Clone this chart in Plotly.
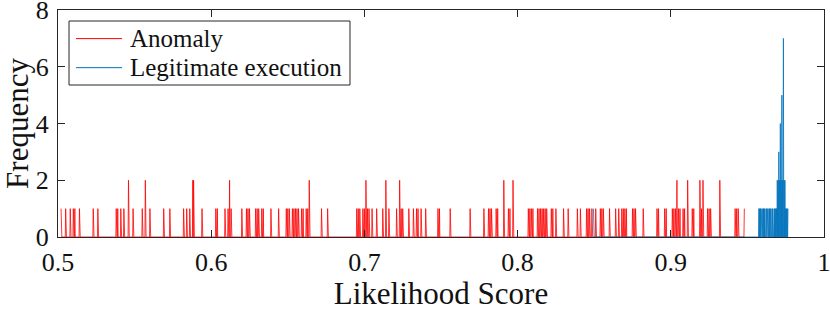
import numpy as np
import plotly.graph_objects as go

# ---- data (score value, frequency) ----
anomaly_score = [
    0.502, 0.505, 0.508, 0.510, 0.511, 0.514, 0.523, 0.526, 0.538, 0.539,
    0.541, 0.543, 0.546, 0.549, 0.555, 0.557, 0.560, 0.569, 0.573, 0.582,
    0.584, 0.586, 0.588, 0.5885, 0.594, 0.603, 0.604, 0.609, 0.611, 0.612,
    0.613, 0.620, 0.623, 0.624, 0.625, 0.629, 0.630, 0.631, 0.633, 0.634,
    0.639, 0.644, 0.649, 0.650, 0.651, 0.653, 0.654, 0.655, 0.656, 0.657,
    0.659, 0.660, 0.662, 0.663, 0.664, 0.672, 0.676, 0.695, 0.696, 0.697,
    0.699, 0.700, 0.701, 0.702, 0.703, 0.705, 0.708, 0.712, 0.714, 0.716,
    0.721, 0.723, 0.724, 0.725, 0.729, 0.732, 0.734, 0.735, 0.737, 0.740,
    0.748, 0.749, 0.756, 0.769, 0.778, 0.781, 0.782, 0.783, 0.786, 0.787,
    0.791, 0.794, 0.795, 0.797, 0.807, 0.808, 0.809, 0.810, 0.813, 0.814,
    0.815, 0.816, 0.817, 0.818, 0.819, 0.822, 0.823, 0.825, 0.830, 0.833,
    0.839, 0.841, 0.845, 0.846, 0.847, 0.8485, 0.851, 0.854, 0.855, 0.856,
    0.860, 0.864, 0.866, 0.868, 0.869, 0.870, 0.871, 0.875, 0.876, 0.877,
    0.882, 0.891, 0.892, 0.896, 0.897, 0.901, 0.902, 0.903, 0.904, 0.905,
    0.906, 0.908, 0.909, 0.911, 0.914, 0.915, 0.919, 0.920, 0.921, 0.924,
    0.925, 0.926, 0.932, 0.942, 0.943, 0.944, 0.948,
]
anomaly_freq = [
    1, 1, 1, 1, 1, 1, 1, 1, 1, 1,
    1, 1, 2, 1, 1, 2, 1, 1, 1, 1,
    1, 1, 2, 2, 1, 1, 1, 1, 1, 2,
    1, 1, 1, 1, 1, 1, 1, 1, 1, 1,
    1, 1, 1, 1, 1, 1, 1, 1, 1, 1,
    1, 1, 1, 1, 2, 1, 1, 1, 1, 1,
    1, 1, 2, 1, 1, 1, 1, 1, 2, 1,
    1, 2, 1, 1, 1, 1, 1, 1, 1, 1,
    1, 1, 1, 1, 1, 1, 1, 1, 1, 1,
    2, 1, 1, 2, 1, 1, 1, 1, 1, 1,
    1, 1, 1, 1, 1, 1, 1, 1, 1, 1,
    1, 1, 1, 1, 1, 1, 1, 1, 1, 1,
    1, 1, 1, 1, 1, 1, 1, 1, 1, 1,
    1, 1, 1, 1, 1, 1, 1, 1, 2, 1,
    1, 1, 1, 2, 1, 1, 2, 1, 2, 1,
    1, 1, 2, 1, 1, 1, 1,
]

legit_score = [
    0.8495, 0.9575, 0.958, 0.9585, 0.959, 0.960, 0.9605, 0.961, 0.9615,
    0.9625, 0.963, 0.964, 0.9645, 0.965, 0.966, 0.9665, 0.9675, 0.968,
    0.9685, 0.969, 0.9695, 0.970, 0.9705, 0.971, 0.9715, 0.972, 0.9725,
    0.973, 0.9735, 0.974, 0.9745, 0.975, 0.9755, 0.976, 0.9765,
]
legit_freq = [
    1, 1, 1, 1, 1, 1, 1, 1, 1,
    1, 1, 1, 1, 1, 1, 1, 1, 1,
    1, 1, 2, 2, 3, 2, 4, 2, 5,
    2, 7, 2, 2, 1, 1, 1, 1,
]

series_names = ["Anomaly", "Legitimate execution"]
series_colors = ["#FF0000", "#0072BD"]

x_ticks = [0.5, 0.6, 0.7, 0.8, 0.9, 1.0]
x_tick_labels = ["0.5", "0.6", "0.7", "0.8", "0.9", "1"]
y_ticks = [0, 2, 4, 6, 8]

BIN_W = 0.00025


def histogram_line(scores, freqs, w=BIN_W):
    samples = np.repeat(np.asarray(scores, float), freqs)
    lo, hi = samples.min(), samples.max()
    edges = np.arange(lo - w / 2, hi + w, w)
    counts, edges = np.histogram(samples, bins=edges)
    centers = (edges[:-1] + edges[1:]) / 2
    return centers, counts


ax_, ay_ = histogram_line(anomaly_score, anomaly_freq)
lx_, ly_ = histogram_line(legit_score, legit_freq)

FONT = "Liberation Serif, Times New Roman, Times, serif"
AXC = "#262626"
TXT = "#111111"

fig = go.Figure()
fig.add_trace(go.Scatter(x=ax_, y=ay_, mode="lines", name=series_names[0],
                         line=dict(color=series_colors[0], width=0.8)))
fig.add_trace(go.Scatter(x=lx_, y=ly_, mode="lines", name=series_names[1],
                         line=dict(color=series_colors[1], width=0.8)))

# ---- MATLAB-style legend box (paper coordinates) ----
box_x0, box_x1, box_y0, box_y1 = 0.0144, 0.3812, 0.6696, 0.9515
line_x0, line_x1, text_x = 0.0235, 0.0836, 0.0914
entry_y = [0.874, 0.746]
fig.add_shape(type="rect", xref="paper", yref="paper",
              x0=box_x0, x1=box_x1, y0=box_y0, y1=box_y1,
              line=dict(color=AXC, width=1), fillcolor="white", layer="above")
for name, color, yy in zip(series_names, series_colors, entry_y):
    fig.add_shape(type="line", xref="paper", yref="paper",
                  x0=line_x0, x1=line_x1, y0=yy, y1=yy,
                  line=dict(color=color, width=1), layer="above")
    fig.add_annotation(x=text_x, y=yy, xref="paper", yref="paper",
                       text=name, showarrow=False, xanchor="left", yanchor="middle",
                       font=dict(family=FONT, size=25, color=TXT))

fig.update_layout(
    width=830, height=311,
    margin=dict(l=58, r=6, t=10, b=74, autoexpand=False),
    paper_bgcolor="white", plot_bgcolor="white",
    font=dict(family=FONT, color=TXT, size=26),
    showlegend=False,
    xaxis=dict(range=[0.5, 1.0], tickvals=x_ticks, ticktext=x_tick_labels,
               showline=True, linecolor=AXC, linewidth=1, mirror="ticks",
               ticks="inside", ticklen=7, tickcolor=AXC, showgrid=False,
               zeroline=False, automargin=False, ticklabeloverflow="allow",
               ticklabelstandoff=2,
               tickfont=dict(family=FONT, size=26, color=TXT),
               title=dict(text="Likelihood Score",
                          font=dict(family=FONT, size=31, color=TXT), standoff=5)),
    yaxis=dict(range=[0, 8], tickvals=y_ticks,
               showline=True, linecolor=AXC, linewidth=1, mirror="ticks",
               ticks="inside", ticklen=7, tickcolor=AXC, showgrid=False,
               zeroline=False, automargin=False, ticklabeloverflow="allow",
               ticklabelstandoff=3,
               tickfont=dict(family=FONT, size=26, color=TXT),
               title=dict(text="Frequency",
                          font=dict(family=FONT, size=31, color=TXT), standoff=2)),
)

fig.write_html("out.html",
               config={"displayModeBar": False},
               post_script="document.body.style.margin='0';document.body.style.overflow='hidden';")
